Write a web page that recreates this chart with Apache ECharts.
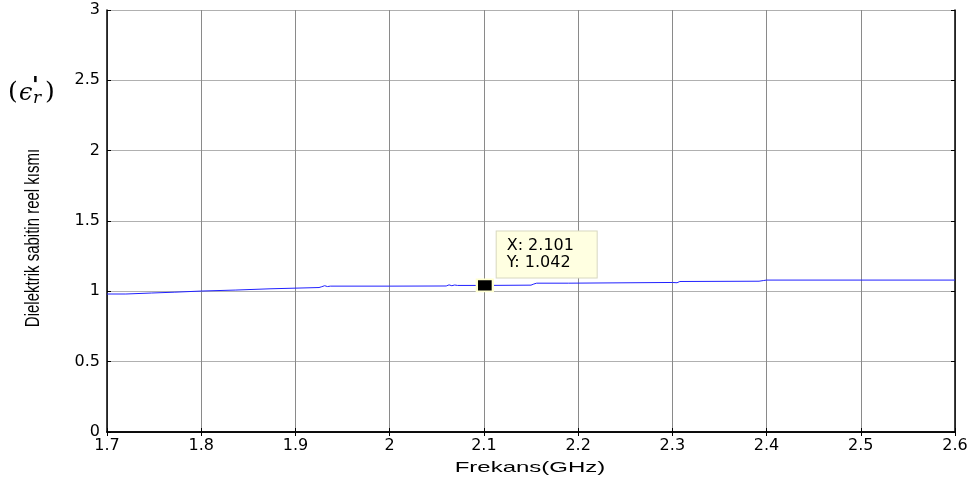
<!DOCTYPE html>
<html><head><meta charset="utf-8">
<script src="https://cdn.jsdelivr.net/npm/echarts@6/dist/echarts.min.js"></script>
<style>html,body{margin:0;padding:0;background:#fff}#c{width:976px;height:484px}</style>
</head><body><div id="c"></div>
<script>
const freq = [1.700,1.720,1.721,1.747,1.748,1.772,1.773,1.800,1.801,1.836,1.837,1.873,1.874,1.925,1.928,1.931,1.934,1.937,2.000,2.060,2.063,2.066,2.069,2.072,2.101,2.150,2.153,2.156,2.190,2.192,2.300,2.302,2.305,2.308,2.392,2.394,2.397,2.400,2.600];
const eps  = [0.981,0.981,0.988,0.988,0.994,0.994,1.002,1.002,1.009,1.009,1.018,1.018,1.027,1.027,1.033,1.040,1.034,1.037,1.037,1.038,1.046,1.040,1.045,1.042,1.042,1.044,1.052,1.058,1.058,1.063,1.063,1.058,1.061,1.070,1.072,1.080,1.077,1.080,1.080];
const tip = {x: 2.101, y: 1.042};
const xTicks = [1.7,1.8,1.9,2,2.1,2.2,2.3,2.4,2.5,2.6];
const yTicks = [0,0.5,1,1.5,2,2.5,3];
const xName = 'Frekans(GHz)';
const yName = 'Dielektrik sabitin reel kısmı';

const chart = echarts.init(document.getElementById('c'), null, {renderer:'canvas'});
const font = 'Liberation Sans, Arial, sans-serif';
const wide = 'DejaVu Sans, Verdana, sans-serif';
const fmt = v => String(Math.round(v*10)/10);
const axCommon = {
  axisLine:{show:true, lineStyle:{color:'#000', width:1.5}},
  axisTick:{show:true, inside:true, length:4, lineStyle:{color:'#000'}},
};
chart.setOption({
  animation:false,
  grid:{left:107, right:21, top:10, bottom:52, show:false},
  xAxis:[{
    type:'value', min:xTicks[0], max:xTicks[xTicks.length-1], interval:0.1, ...axCommon,
    axisLabel:{color:'#000', fontSize:16, fontFamily:wide, margin:6, formatter:fmt},
    splitLine:{show:true, lineStyle:{color:'#8a8a8a', width:1}}
  },{
    type:'value', position:'top', min:xTicks[0], max:xTicks[xTicks.length-1], interval:0.1, ...axCommon,
    axisLabel:{show:false}, splitLine:{show:false}
  }],
  yAxis:[{
    type:'value', min:yTicks[0], max:yTicks[yTicks.length-1], interval:0.5, ...axCommon,
    axisLabel:{color:'#000', fontSize:16, fontFamily:wide, margin:7, formatter:v=>String(v)},
    splitLine:{show:true, lineStyle:{color:'#b0b0b0', width:1}}
  },{
    type:'value', position:'right', min:yTicks[0], max:yTicks[yTicks.length-1], interval:0.5, ...axCommon,
    axisLabel:{show:false}, splitLine:{show:false}
  }],
  series:[{
    type:'line', data:freq.map((f,i)=>[f,eps[i]]), showSymbol:false,
    lineStyle:{color:'#2020ff', width:1}, z:3
  },{
    type:'scatter', data:[[tip.x, tip.y]], symbol:'rect', symbolSize:[16,12],
    itemStyle:{color:'#000', borderColor:'#ffffd0', borderWidth:2, opacity:1}, z:5,
    label:{show:true, position:[21,-47], formatter:'X: '+tip.x.toFixed(3)+'\nY: '+tip.y.toFixed(3),
      backgroundColor:'#ffffe1', borderColor:'#d8d8c0', borderWidth:1, padding:[6,13,6,10], width:77,
      color:'#000', fontSize:16, lineHeight:17, fontFamily:wide}
  }],
  graphic:[
    {type:'text', x:34, y:238, rotation:Math.PI/2, scaleY:1.3, style:{text:yName, fontSize:15,
      fontFamily:'Liberation Sans Narrow, Arial Narrow, sans-serif', fill:'#000', align:'center', verticalAlign:'middle'}},
    {type:'text', x:530, y:468, scaleX:1.6, style:{text:xName, fontSize:15,
      fontFamily:font, fill:'#000', align:'center', verticalAlign:'middle'}},
    {type:'text', x:8, y:92, style:{text:'(', fontSize:25, fontFamily:'DejaVu Serif, serif', fill:'#000', verticalAlign:'middle'}},
    {type:'text', x:19, y:94, style:{text:'ϵ', fontSize:24, fontStyle:'italic', fontFamily:'DejaVu Serif, serif', fill:'#000', verticalAlign:'middle'}},
    {type:'text', x:32, y:86, style:{text:'\'', fontSize:22, fontStyle:'italic', fontWeight:'bold', fontFamily:'DejaVu Serif, serif', fill:'#000', verticalAlign:'middle'}},
    {type:'text', x:33, y:99, style:{text:'r', fontSize:17, fontStyle:'italic', fontFamily:'DejaVu Serif, serif', fill:'#000', verticalAlign:'middle'}},
    {type:'text', x:45, y:92, style:{text:')', fontSize:25, fontFamily:'DejaVu Serif, serif', fill:'#000', verticalAlign:'middle'}}
  ]
});
</script></body></html>
